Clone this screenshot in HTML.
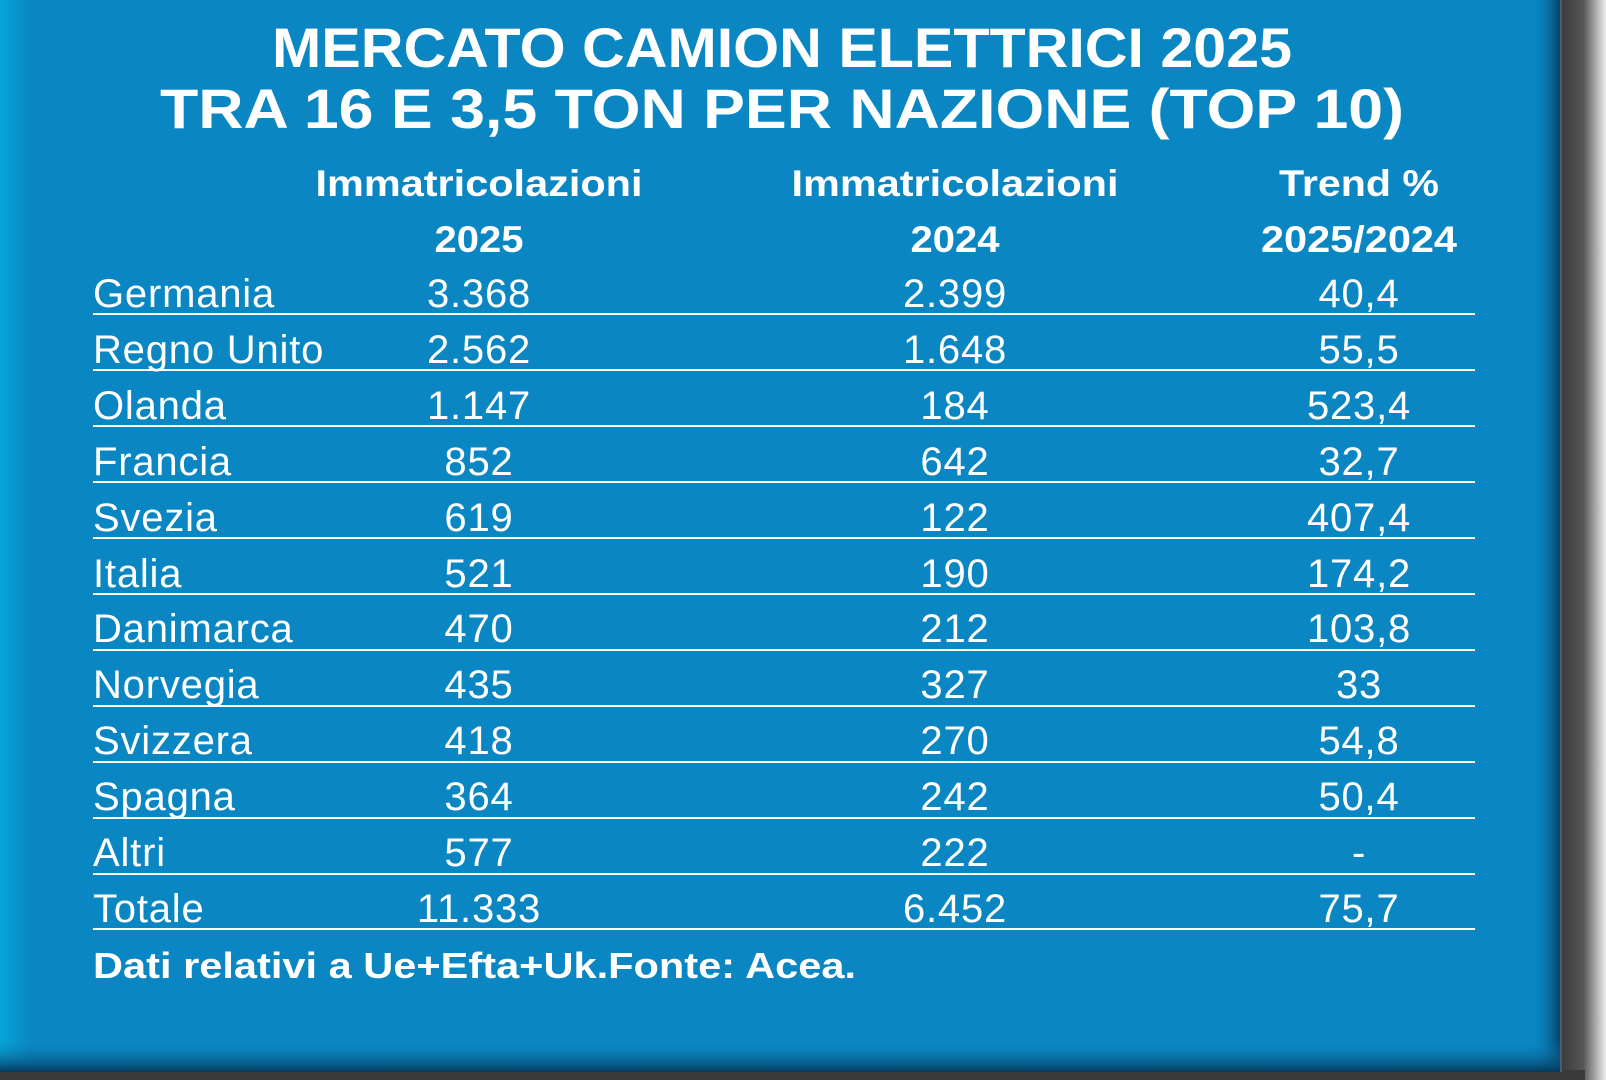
<!DOCTYPE html>
<html><head><meta charset="utf-8"><style>
html,body{margin:0;padding:0;width:1606px;height:1080px;overflow:hidden;background:#e8e8e8}
</style></head><body>
<svg width="1606" height="1080" viewBox="0 0 1606 1080" xmlns="http://www.w3.org/2000/svg">
<defs>
<linearGradient id="gl" x1="0" x2="1" y1="0" y2="0">
<stop offset="0" stop-color="#06a6d8"/><stop offset="1" stop-color="#0a87c3"/></linearGradient>
<linearGradient id="gr" x1="0" x2="1" y1="0" y2="0">
<stop offset="0" stop-color="#0a87c3" stop-opacity="0"/><stop offset="1" stop-color="#053a5a"/></linearGradient>
<linearGradient id="gb" x1="0" x2="0" y1="0" y2="1">
<stop offset="0" stop-color="#0a87c3" stop-opacity="0"/><stop offset="1" stop-color="#053a5a"/></linearGradient>
<linearGradient id="gs" x1="0" x2="1" y1="0" y2="0">
<stop offset="0" stop-color="#3a3a3a"/><stop offset="0.5" stop-color="#555"/><stop offset="1" stop-color="#eee"/></linearGradient>
</defs>
<rect x="0" y="0" width="1606" height="1080" fill="#e8e8e8"/>
<rect x="1560" y="0" width="46" height="1080" fill="url(#gs)"/>
<rect x="0" y="1070" width="1585" height="10" fill="#3a3a3a"/>
<rect x="0" y="0" width="1562" height="1072" fill="#0a87c3"/>
<rect x="0" y="0" width="30" height="1072" fill="url(#gl)"/>
<rect x="1530" y="0" width="32" height="1072" fill="url(#gr)"/>
<rect x="0" y="1040" width="1562" height="32" fill="url(#gb)"/>
<line x1="1561" y1="0" x2="1561" y2="1072" stroke="#4a5a70" stroke-width="2"/>
<g fill="#fff" font-family="Liberation Sans, sans-serif" text-anchor="middle">
<text x="782" y="67" font-size="56" font-weight="bold" textLength="1020" lengthAdjust="spacingAndGlyphs">MERCATO CAMION ELETTRICI 2025</text>
<text x="782" y="128" font-size="56" font-weight="bold" textLength="1244" lengthAdjust="spacingAndGlyphs">TRA 16 E 3,5 TON PER NAZIONE (TOP 10)</text>
<g font-size="37" font-weight="bold">
<text x="479" y="196" textLength="327" lengthAdjust="spacingAndGlyphs">Immatricolazioni</text><text x="479" y="252" textLength="89" lengthAdjust="spacingAndGlyphs">2025</text>
<text x="955" y="196" textLength="327" lengthAdjust="spacingAndGlyphs">Immatricolazioni</text><text x="955" y="252" textLength="89" lengthAdjust="spacingAndGlyphs">2024</text>
<text x="1359" y="196" textLength="160" lengthAdjust="spacingAndGlyphs">Trend %</text><text x="1359" y="252" textLength="196" lengthAdjust="spacingAndGlyphs">2025/2024</text>
</g>
<g font-size="40" letter-spacing="0.8">
<g text-anchor="start">
<text x="93" y="307">Germania</text>
<text x="93" y="363">Regno Unito</text>
<text x="93" y="419">Olanda</text>
<text x="93" y="475">Francia</text>
<text x="93" y="531">Svezia</text>
<text x="93" y="587">Italia</text>
<text x="93" y="642">Danimarca</text>
<text x="93" y="698">Norvegia</text>
<text x="93" y="754">Svizzera</text>
<text x="93" y="810">Spagna</text>
<text x="93" y="866">Altri</text>
<text x="93" y="922">Totale</text>
</g>
<text x="479" y="307">3.368</text><text x="955" y="307">2.399</text><text x="1359" y="307">40,4</text>
<text x="479" y="363">2.562</text><text x="955" y="363">1.648</text><text x="1359" y="363">55,5</text>
<text x="479" y="419">1.147</text><text x="955" y="419">184</text><text x="1359" y="419">523,4</text>
<text x="479" y="475">852</text><text x="955" y="475">642</text><text x="1359" y="475">32,7</text>
<text x="479" y="531">619</text><text x="955" y="531">122</text><text x="1359" y="531">407,4</text>
<text x="479" y="587">521</text><text x="955" y="587">190</text><text x="1359" y="587">174,2</text>
<text x="479" y="642">470</text><text x="955" y="642">212</text><text x="1359" y="642">103,8</text>
<text x="479" y="698">435</text><text x="955" y="698">327</text><text x="1359" y="698">33</text>
<text x="479" y="754">418</text><text x="955" y="754">270</text><text x="1359" y="754">54,8</text>
<text x="479" y="810">364</text><text x="955" y="810">242</text><text x="1359" y="810">50,4</text>
<text x="479" y="866">577</text><text x="955" y="866">222</text><text x="1359" y="866">-</text>
<text x="479" y="922">11.333</text><text x="955" y="922">6.452</text><text x="1359" y="922">75,7</text>
</g>
<text x="93" y="978" font-size="36" font-weight="bold" text-anchor="start" textLength="763" lengthAdjust="spacingAndGlyphs">Dati relativi a Ue+Efta+Uk.Fonte: Acea.</text>
</g>
<g stroke="#fff" stroke-width="2">
<line x1="93" x2="1475" y1="314" y2="314"/>
<line x1="93" x2="1475" y1="370" y2="370"/>
<line x1="93" x2="1475" y1="426" y2="426"/>
<line x1="93" x2="1475" y1="482" y2="482"/>
<line x1="93" x2="1475" y1="538" y2="538"/>
<line x1="93" x2="1475" y1="594" y2="594"/>
<line x1="93" x2="1475" y1="650" y2="650"/>
<line x1="93" x2="1475" y1="706" y2="706"/>
<line x1="93" x2="1475" y1="762" y2="762"/>
<line x1="93" x2="1475" y1="818" y2="818"/>
<line x1="93" x2="1475" y1="874" y2="874"/>
<line x1="93" x2="1475" y1="929" y2="929"/>
</g>
</svg>
</body></html>
